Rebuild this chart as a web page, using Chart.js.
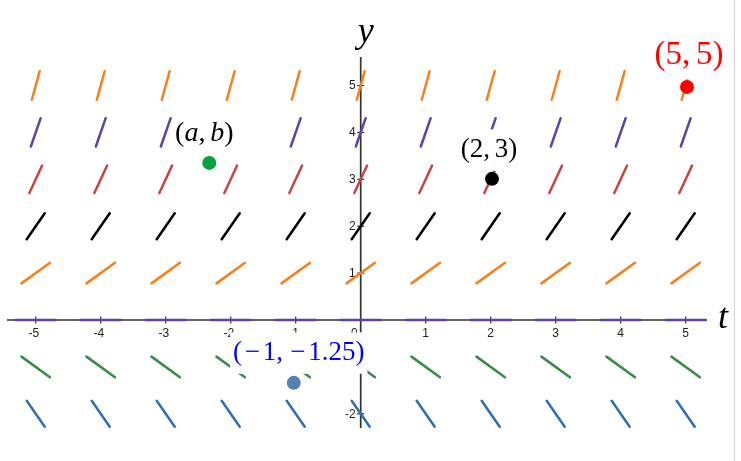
<!DOCTYPE html>
<html>
<head>
<meta charset="utf-8">
<script src="https://cdn.jsdelivr.net/npm/chart.js@4.4.1/dist/chart.umd.min.js"></script>
<style>
  html, body { margin: 0; padding: 0; background: #fff; }
  #wrap { position: relative; width: 741px; height: 461px; }
  #edge { position: absolute; left: 734px; top: 0; width: 1px; height: 461px; background: #d6d6d6; }
</style>
</head>
<body>
<div id="wrap">
  <canvas id="chart" width="741" height="461"></canvas>
  <div id="edge"></div>
</div>
<script>
// slope field dy/dt = y, sampled at integer t
var tValues = [-5, -4, -3, -2, -1, 0, 1, 2, 3, 4, 5];
var rowY = [5, 4, 3, 2, 1, 0, -1, -2];
var rowSlope = [5, 4, 3, 2, 1, 0, -1, -2];

// marked points
var pointNames = ['(a,b)', '(2,3)', '(5,5)', '(\u22121,\u22121.25)'];
var pointT = [-2.33, 2.02, 5.02, -1.03];
var pointY = [3.35, 3.01, 4.97, -1.34];

// axis ticks
var xTicks = [-5, -4, -3, -2, -1, 0, 1, 2, 3, 4, 5];
var yTicks = [-2, -1, 1, 2, 3, 4, 5];

// styles
var rowColors = ['#fa7e19', '#6042a6', '#c74440', '#000000', '#fa7e19', '#6042a6', '#388c46', '#2d70b3'];
var pointColors = ['#06a33c', '#000000', '#ff0000', '#5580b4'];
var labelColors = ['#000000', '#000000', '#ff0000', '#0000ff'];
var labelSizes = [28, 27, 33, 27];
var labelOffsets = [[-5, -22], [-3, -22], [2, -23], [5, -23]];
var labelPadX = [[3, 7], [3, 3], [3, 3], [3, 3]];
var segLen = 0.62;

var datasets = [];

for (var i = 0; i < pointNames.length; i++) {
    datasets.push({
        label: pointNames[i],
        data: [{x: pointT[i], y: pointY[i]}],
        pointRadius: 7,
        pointBackgroundColor: pointColors[i],
        pointBorderWidth: 0,
        showLine: false
    });
}

for (var r = 0; r < rowY.length; r++) {
    var m = rowSlope[r];
    var dt = segLen / 2 / Math.sqrt(1 + m * m);
    for (var j = 0; j < tValues.length; j++) {
        datasets.push({
            data: [{x: tValues[j] - dt, y: rowY[r] - m * dt}, {x: tValues[j] + dt, y: rowY[r] + m * dt}],
            showLine: true,
            borderColor: rowColors[r],
            borderWidth: 2.5,
            borderCapStyle: 'round',
            pointRadius: 0,
            clip: false
        });
    }
}

function mathRuns(str) {
    var runs = [];
    for (var k = 0; k < str.length; k++) {
        var ch = str[k];
        runs.push({ch: ch, it: /[a-z]/.test(ch)});
    }
    return runs;
}

function drawMath(ctx, str, cx, base, size, color, pad) {
    var runs = mathRuns(str);
    var total = 0;
    runs.forEach(function(rn) {
        ctx.font = (rn.it ? 'italic ' : '') + size + 'px "Liberation Serif"';
        rn.g = ctx.measureText(rn.ch).width;
        rn.pre = rn.ch === '\u2212' ? size * 0.1 : 0;
        rn.w = rn.g + rn.pre * 2 + (rn.ch === ',' ? size * 0.17 : 0);
        total += rn.w;
    });
    var x = cx - total / 2;
    // white backing box behind the label
    ctx.fillStyle = '#ffffff';
    ctx.fillRect(x - pad[0], base - size * 0.72 - 8, total + pad[0] + pad[1], size * 0.94 + 16);
    ctx.fillStyle = color;
    ctx.textBaseline = 'alphabetic';
    ctx.textAlign = 'left';
    runs.forEach(function(rn) {
        ctx.font = (rn.it ? 'italic ' : '') + size + 'px "Liberation Serif"';
        ctx.fillText(rn.ch, x + rn.pre, base);
        x += rn.w;
    });
}

var fieldPlugin = {
    id: 'fieldAxes',
    beforeDatasetsDraw: function(chart) {
        var ctx = chart.ctx, xs = chart.scales.x, ys = chart.scales.y, a = chart.chartArea;
        var x0 = xs.getPixelForValue(0), y0 = ys.getPixelForValue(0);
        ctx.save();
        ctx.strokeStyle = '#333333';
        ctx.lineWidth = 1.7;
        ctx.beginPath();
        ctx.moveTo(a.left, y0); ctx.lineTo(a.right, y0);
        ctx.moveTo(x0, a.top); ctx.lineTo(x0, a.bottom);
        ctx.stroke();

        ctx.lineWidth = 1.2;
        ctx.fillStyle = '#222222';
        ctx.font = '12px "Liberation Sans"';
        ctx.textBaseline = 'middle';
        xTicks.forEach(function(v) {
            var px = xs.getPixelForValue(v);
            if (v !== 0) {
                ctx.beginPath(); ctx.moveTo(px, y0 - 3.5); ctx.lineTo(px, y0 + 3.5); ctx.stroke();
                ctx.textAlign = 'center';
                ctx.fillText(String(v), px - (v < 0 ? 2 : 0), y0 + 14);
            } else {
                ctx.textAlign = 'right';
                ctx.fillText('0', px - 3, y0 + 14);
            }
        });
        yTicks.forEach(function(v) {
            var py = ys.getPixelForValue(v);
            ctx.beginPath(); ctx.moveTo(x0 - 3.5, py); ctx.lineTo(x0 + 3.5, py); ctx.stroke();
            ctx.textAlign = 'right';
            ctx.fillText(String(v), x0 - 5, py + 0.5);
        });

        ctx.fillStyle = '#000000';
        ctx.font = 'italic 36px "Liberation Serif"';
        ctx.textAlign = 'center';
        ctx.textBaseline = 'alphabetic';
        ctx.fillText('y', x0 + 5, a.top - 15);
        ctx.fillText('t', a.right + 16, y0 + 8);
        ctx.restore();
    },
    afterDatasetsDraw: function(chart) {
        var ctx = chart.ctx, xs = chart.scales.x, ys = chart.scales.y;
        ctx.save();
        for (var i = 0; i < pointNames.length; i++) {
            var px = xs.getPixelForValue(pointT[i]), py = ys.getPixelForValue(pointY[i]);
            drawMath(ctx, pointNames[i], px + labelOffsets[i][0], py + labelOffsets[i][1], labelSizes[i], labelColors[i], labelPadX[i]);
        }
        ctx.restore();
    }
};

var ctx = document.getElementById('chart');
var chart = new Chart(ctx, {
    type: 'scatter',
    data: { datasets: datasets },
    options: {
        responsive: false,
        animation: false,
        devicePixelRatio: 1,
        events: [],
        layout: { padding: { left: 7, right: 34, top: 57, bottom: 33 } },
        scales: {
            x: { type: 'linear', min: -5.442, max: 5.328, display: false },
            y: { type: 'linear', min: -2.303, max: 5.608, display: false }
        },
        plugins: { legend: { display: false }, tooltip: { enabled: false } }
    },
    plugins: [fieldPlugin]
});
</script>
</body>
</html>
